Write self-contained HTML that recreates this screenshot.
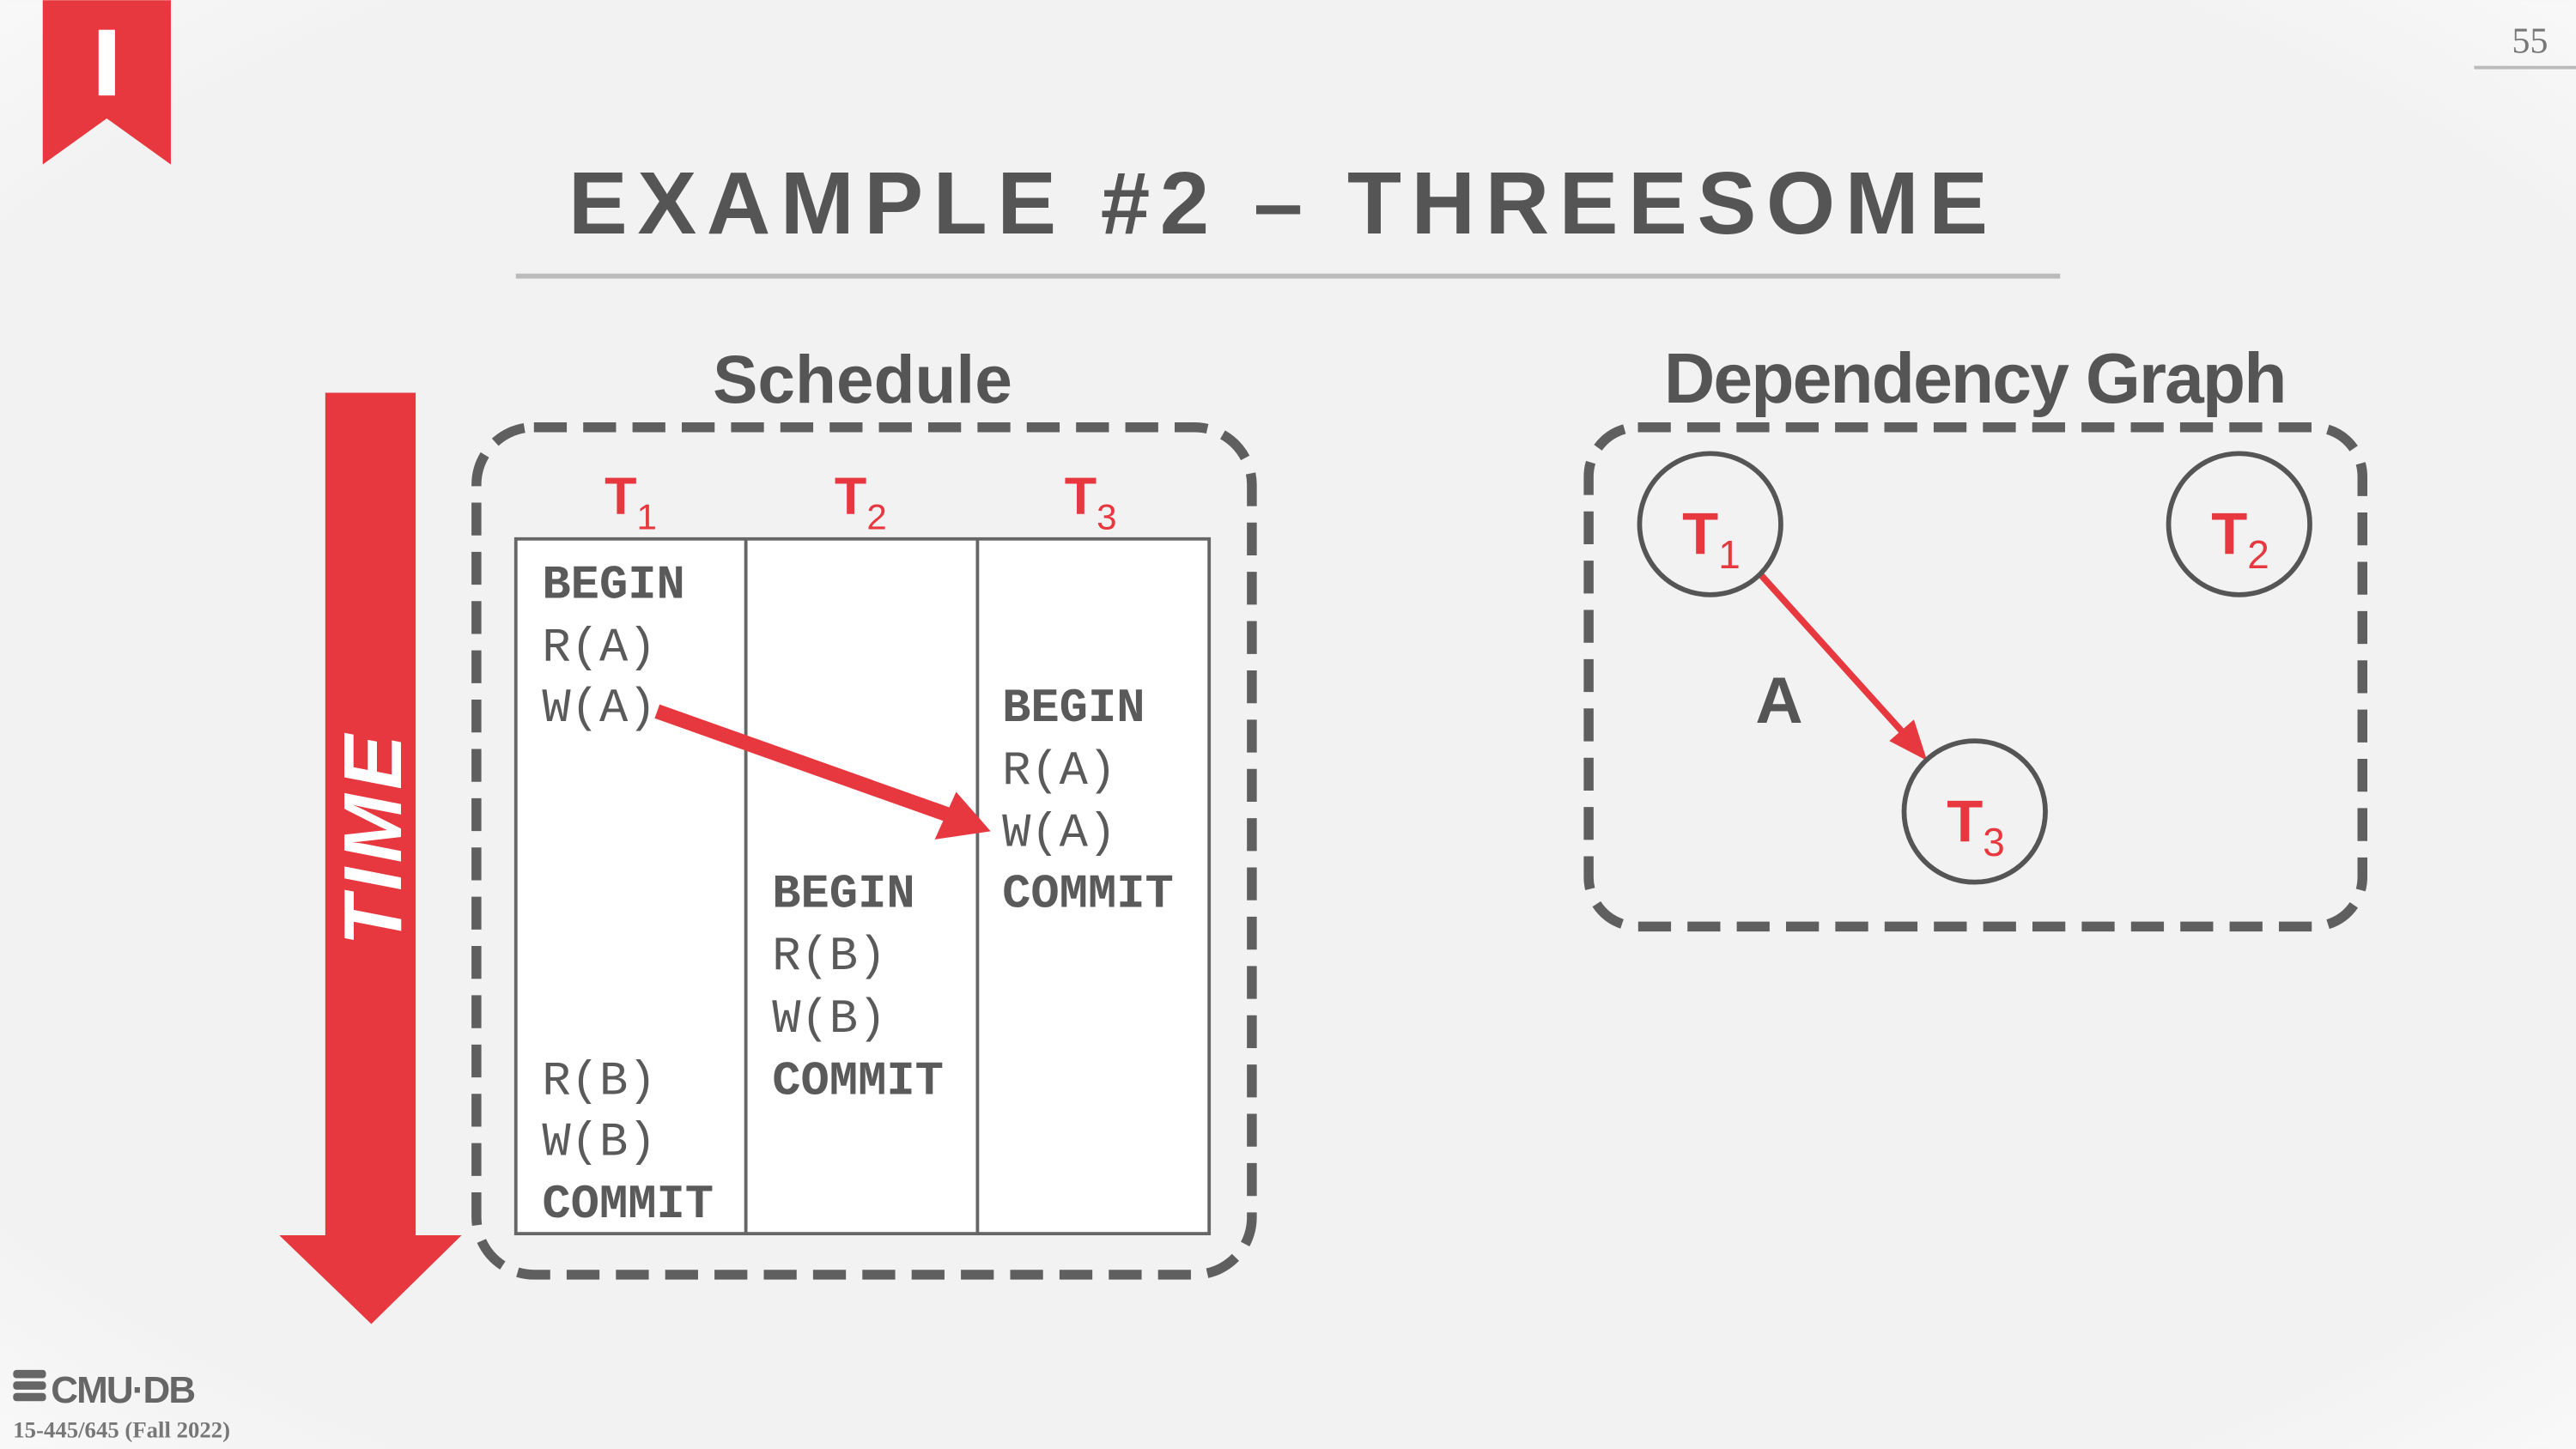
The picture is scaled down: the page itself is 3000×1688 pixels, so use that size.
<!DOCTYPE html>
<html><head><meta charset="utf-8"><style>
html,body{margin:0;padding:0;background:#f2f2f2;}
svg{display:block;}
</style></head><body>
<svg width="3000" height="1688" viewBox="0 0 1568 882" xmlns="http://www.w3.org/2000/svg">
<defs>
<radialGradient id="bg" cx="50%" cy="50%" r="75%">
<stop offset="80%" stop-color="#f2f2f2"/><stop offset="100%" stop-color="#fbfbfb"/>
</radialGradient>
</defs>
<rect width="1568" height="882" fill="url(#bg)"/>
<polygon points="26,0 104,0 104,100 65,72 26,100" fill="#e8383f"/>
<rect x="60" y="18" width="10" height="40" fill="#fff"/>
<text x="1540" y="32" font-family="Liberation Serif, serif" font-size="22" fill="#777" text-anchor="middle">55</text>
<line x1="1506" y1="41" x2="1568" y2="41" stroke="#bbb" stroke-width="2"/>
<text x="781" y="142" font-family="Liberation Sans, sans-serif" font-weight="bold" font-size="54" letter-spacing="6" fill="#555" text-anchor="middle">EXAMPLE #2 – THREESOME</text>
<line x1="314" y1="168" x2="1254" y2="168" stroke="#bbb" stroke-width="3"/>
<text x="525" y="245" font-family="Liberation Sans, sans-serif" font-weight="bold" font-size="41" fill="#555" text-anchor="middle">Schedule</text>
<text x="1202" y="245" font-family="Liberation Sans, sans-serif" font-weight="bold" font-size="43" fill="#555" text-anchor="middle" letter-spacing="-1">Dependency Graph</text>
<rect x="198" y="239" width="55" height="514" fill="#e8383f"/>
<polygon points="170,752 281,752 226,806" fill="#e8383f"/>
<text transform="translate(244,510) rotate(-90)" font-family="Liberation Sans, sans-serif" font-weight="bold" font-style="italic" font-size="50" fill="#fff" text-anchor="middle" letter-spacing="3">TIME</text>
<rect x="290" y="260" width="472" height="516" rx="35" fill="none" stroke="#5f5f5f" stroke-width="6" stroke-dasharray="20 10"/>
<g font-family="Liberation Sans, sans-serif" fill="#e8383f" font-weight="bold">
<text x="368" y="313" font-size="32">T<tspan font-size="22" dy="9" font-weight="normal">1</tspan></text>
<text x="508" y="313" font-size="32">T<tspan font-size="22" dy="9" font-weight="normal">2</tspan></text>
<text x="648" y="313" font-size="32">T<tspan font-size="22" dy="9" font-weight="normal">3</tspan></text>
</g>
<rect x="314" y="328" width="422" height="423" fill="#fff" stroke="#666" stroke-width="2"/>
<line x1="454" y1="328" x2="454" y2="751" stroke="#666" stroke-width="2"/>
<line x1="595" y1="328" x2="595" y2="751" stroke="#666" stroke-width="2"/>
<g font-family="Liberation Mono, monospace" font-size="29" fill="#5a5a5a">
<text x="330" y="364" font-weight="bold">BEGIN</text>
<text x="330" y="402">R(A)</text>
<text x="330" y="439">W(A)</text>
<text x="330" y="666">R(B)</text>
<text x="330" y="703">W(B)</text>
<text x="330" y="741" font-weight="bold">COMMIT</text>
<text x="470" y="552" font-weight="bold">BEGIN</text>
<text x="470" y="590">R(B)</text>
<text x="470" y="628">W(B)</text>
<text x="470" y="666" font-weight="bold">COMMIT</text>
<text x="610" y="439" font-weight="bold">BEGIN</text>
<text x="610" y="477">R(A)</text>
<text x="610" y="515">W(A)</text>
<text x="610" y="552" font-weight="bold">COMMIT</text>
</g>
<line x1="400" y1="433" x2="580" y2="497" stroke="#e8383f" stroke-width="9"/>
<polygon points="603,506 569,511 582,482" fill="#e8383f"/>
<rect x="967" y="260" width="471" height="304" rx="30" fill="none" stroke="#5f5f5f" stroke-width="6" stroke-dasharray="20 10"/>
<line x1="1071" y1="349" x2="1162" y2="450" stroke="#e8383f" stroke-width="4"/>
<polygon points="1173,463 1150,451 1165,438" fill="#e8383f"/>
<g fill="#f2f2f2" stroke="#555" stroke-width="3">
<circle cx="1041" cy="319" r="43"/>
<circle cx="1363" cy="319" r="43"/>
<circle cx="1202" cy="494" r="43"/>
</g>
<g font-family="Liberation Sans, sans-serif" fill="#e8383f" font-weight="bold">
<text x="1024" y="337" font-size="36">T<tspan font-size="24" dy="9" font-weight="normal">1</tspan></text>
<text x="1346" y="337" font-size="36">T<tspan font-size="24" dy="9" font-weight="normal">2</tspan></text>
<text x="1185" y="512" font-size="36">T<tspan font-size="24" dy="9" font-weight="normal">3</tspan></text>
</g>
<text x="1083" y="440" font-family="Liberation Sans, sans-serif" font-weight="bold" font-size="40" fill="#555" text-anchor="middle">A</text>
<g fill="#666">
<rect x="8" y="834" width="20" height="5" rx="2"/>
<rect x="8" y="841" width="20" height="5" rx="2"/>
<rect x="8" y="848" width="20" height="5" rx="2"/>
</g>
<text x="31" y="854" font-family="Liberation Sans, sans-serif" font-weight="bold" font-size="23" fill="#666" letter-spacing="-1">CMU·DB</text>
<text x="8" y="875" font-family="Liberation Serif, serif" font-weight="bold" font-size="14" fill="#777">15-445/645 (Fall 2022)</text>
</svg>
</body></html>
